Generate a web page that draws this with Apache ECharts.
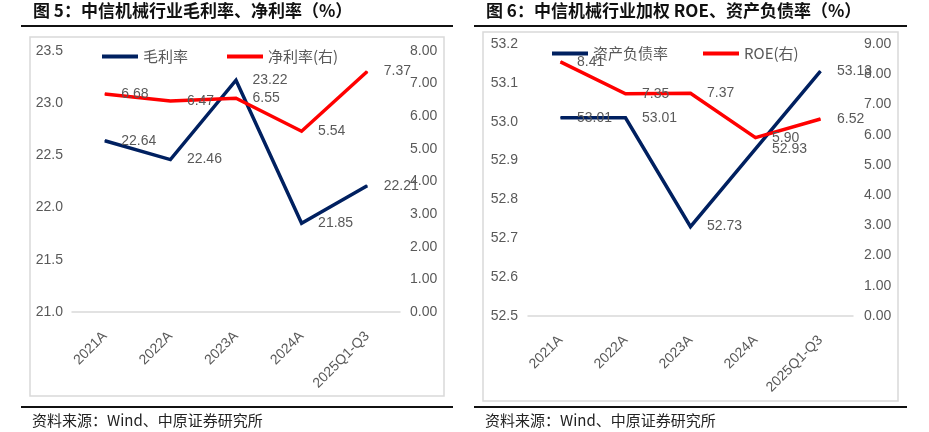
<!DOCTYPE html>
<html><head><meta charset="utf-8">
<script src="https://cdn.jsdelivr.net/npm/echarts@6/dist/echarts.min.js"></script>
<style>html,body{margin:0;padding:0;background:#fff}#c{width:929px;height:432px}</style>
</head><body><div id="c"></div>
<script>
const categories = ['2021A','2022A','2023A','2024A','2025Q1-Q3'];
const grossMargin = [22.64, 22.46, 23.22, 21.85, 22.21];
const netMargin = [6.68, 6.47, 6.55, 5.54, 7.37];
const debtRatio = [53.01, 53.01, 52.73, 52.93, 53.13];
const roe = [8.41, 7.35, 7.37, 5.90, 6.52];
const title1 = '图 5：中信机械行业毛利率、净利率（%）';
const title2 = '图 6：中信机械行业加权 ROE、资产负债率（%）';
const source = '资料来源：Wind、中原证券研究所';

const NAVY = '#002060', RED = '#FF0000', GREY = '#595959';
const FONT = '"Liberation Sans", Arial, sans-serif';
const CJK = '"Noto Sans CJK SC", sans-serif';

const chart = echarts.init(document.getElementById('c'));
function xAxis(gi){
  return {type:'category', gridIndex:gi, data:categories, boundaryGap:true,
    axisLine:{show:true, lineStyle:{color:'#d9d9d9', width:1.5}}, axisTick:{show:false},
    axisLabel:{rotate:45, color:GREY, fontSize:14, fontFamily:FONT, margin:22, interval:0}};
}
function yAxis(gi, pos, min, max, itv, dec, margin){
  return {type:'value', gridIndex:gi, position:pos, min:min, max:max, interval:itv,
    axisLine:{show:false}, axisTick:{show:false}, splitLine:{show:false},
    axisLabel:{color:GREY, fontSize:14, fontFamily:FONT, margin:margin,
      formatter:v=>Number(v).toFixed(dec)}};
}
function line(name, data, color, xi, yi){
  return {type:'line', name:name, data:data, xAxisIndex:xi, yAxisIndex:yi,
    symbol:'circle', symbolSize:1, showSymbol:true, itemStyle:{color:color},
    lineStyle:{color:color, width:3.5, join:'miter'},
    label:{show:true, position:'right', distance:16, color:GREY, fontSize:14, fontFamily:FONT,
      formatter:p=>Number(p.value).toFixed(2)},
    emphasis:{disabled:true}, animation:false};
}
const legendBase = {orient:'horizontal', itemWidth:36, itemHeight:4, icon:'rect',
  textStyle:{color:GREY, fontSize:15, fontFamily:CJK}};

chart.setOption({
  animation:false,
  grid:[
    {left:72, right:529, top:51, bottom:120},
    {left:528, right:76, top:44, bottom:116}
  ],
  xAxis:[xAxis(0), xAxis(1)],
  yAxis:[
    yAxis(0,'left',21,23.5,0.5,1,9),
    yAxis(0,'right',0,8,1,2,10),
    yAxis(1,'left',52.5,53.2,0.1,1,10),
    yAxis(1,'right',0,9,1,2,11)
  ],
  legend:[
    Object.assign({}, legendBase, {left:97, top:44, itemGap:39,
      data:['毛利率','净利率(右)']}),
    Object.assign({}, legendBase, {left:547, top:41, itemGap:35,
      data:['资产负债率','ROE(右)']})
  ],
  series:[
    line('毛利率', grossMargin, NAVY, 0, 0),
    line('净利率(右)', netMargin, RED, 0, 1),
    line('资产负债率', debtRatio, NAVY, 1, 2),
    line('ROE(右)', roe, RED, 1, 3)
  ],
  graphic:[
    {type:'rect', z:-1, shape:{x:30, y:37, width:414, height:359}, style:{fill:'none', stroke:'#d9d9d9', lineWidth:1.5}},
    {type:'rect', z:-1, shape:{x:483, y:32, width:415, height:369}, style:{fill:'none', stroke:'#d9d9d9', lineWidth:1.5}},
    {type:'rect', shape:{x:21, y:25, width:432, height:2}, style:{fill:'#111'}},
    {type:'rect', shape:{x:474, y:25, width:433, height:2}, style:{fill:'#111'}},
    {type:'rect', shape:{x:21, y:406, width:432, height:2}, style:{fill:'#111'}},
    {type:'rect', shape:{x:474, y:406, width:433, height:2}, style:{fill:'#111'}},
    {type:'text', left:33, top:2, style:{text:title1, font:'bold 17px '+CJK, fill:'#111'}},
    {type:'text', left:486, top:2, style:{text:title2, font:'bold 17px '+CJK, fill:'#111'}},
    {type:'text', left:32, top:413, style:{text:source, font:'15px '+CJK, fill:'#222'}},
    {type:'text', left:485, top:413, style:{text:source, font:'15px '+CJK, fill:'#222'}}
  ]
});
</script></body></html>
